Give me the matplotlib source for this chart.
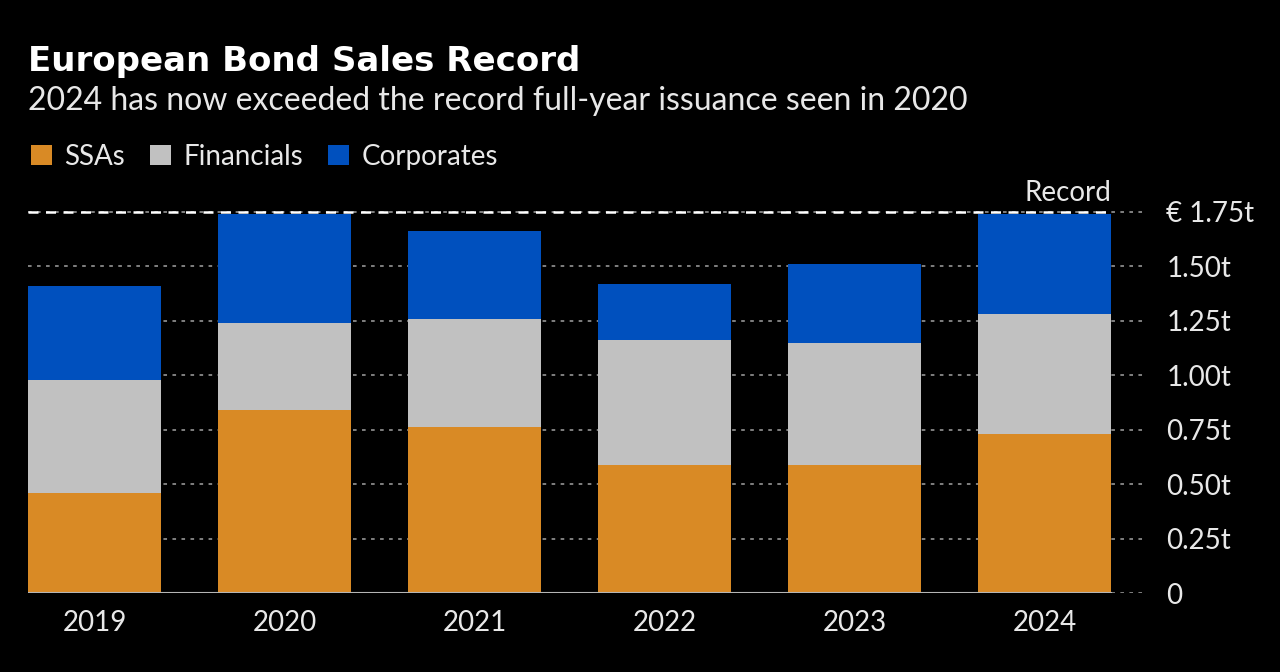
import matplotlib.pyplot as plt
import numpy as np

years = ['2019', '2020', '2021', '2022', '2023', '2024']
ssas = [0.46, 0.84, 0.76, 0.59, 0.59, 0.73]
financials = [0.52, 0.40, 0.50, 0.57, 0.56, 0.55]
corporates = [0.43, 0.50, 0.40, 0.26, 0.36, 0.46]
record = 1.75
yticks = [0, 0.25, 0.5, 0.75, 1.0, 1.25, 1.5, 1.75]
ytick_labels = ['0', '0.25t', '0.50t', '0.75t', '1.00t', '1.25t', '1.50t', '€ 1.75t']

c_ssa = '#D98A25'
c_fin = '#C1C1C1'
c_corp = '#0050BE'
c_text = '#E8E8E8'

plt.rcParams['font.family'] = ['Lato', 'DejaVu Sans']

fig = plt.figure(figsize=(12.8, 6.72), dpi=100, facecolor='black')
ax = fig.add_axes([28/1280, 1 - 593/672, (1147-28)/1280, (593-201)/672])
ax.set_facecolor('black')

x = np.arange(len(years))
w = 0.70
b1 = ax.bar(x, ssas, w, color=c_ssa, label='SSAs', zorder=2)
bottom2 = np.array(ssas)
b2 = ax.bar(x, financials, w, bottom=bottom2, color=c_fin, label='Financials', zorder=2)
bottom3 = bottom2 + np.array(financials)
b3 = ax.bar(x, corporates, w, bottom=bottom3, color=c_corp, label='Corporates', zorder=2)

ax.set_xlim(-0.35, 5.54)
ax.set_ylim(0, 1.80)

for t in yticks:
    ax.axhline(t, color='#8A8A8A', lw=1.3, ls=(0, (2, 3)), zorder=1)
ax.plot([-0.35, 5.35], [0, 0], color='#B5B5B5', lw=1.5, zorder=3)

# record line
ax.plot([-0.35, 5.35], [record, record], color='white', lw=1.8, ls=(0, (4, 3)), zorder=4)
ax.text(5.35, record + 0.025, 'Record', color=c_text, fontsize=20, ha='right', va='bottom')

ax.set_xticks(x)
ax.set_xticklabels(years)
ax.yaxis.tick_right()
ax.set_yticks(yticks)
ax.set_yticklabels(ytick_labels)
for lab in ax.get_yticklabels():
    lab.set_horizontalalignment('left')
ax.tick_params(axis='y', length=0, pad=14, labelsize=20, labelcolor=c_text)
ax.tick_params(axis='x', length=0, pad=12, labelsize=20, labelcolor=c_text)
for s in ax.spines.values():
    s.set_visible(False)

fig.text(28/1280, 1 - 62/672, 'European Bond Sales Record', color='white',
         fontsize=24.5, fontweight='bold', family='DejaVu Sans', va='center', ha='left')
fig.text(28/1280, 1 - 101/672, '2024 has now exceeded the record full-year issuance seen in 2020',
         color=c_text, fontsize=23, va='center', ha='left')

fig.legend(handles=[b1, b2, b3], labels=['SSAs', 'Financials', 'Corporates'],
           loc='center left', bbox_to_anchor=(6/1280, 1 - 157/672), ncol=3,
           frameon=False, fontsize=20, labelcolor=c_text, handlelength=0.75,
           handleheight=0.75, handletextpad=0.45, columnspacing=0.9)

fig.savefig('out.png', dpi=100, facecolor='black')
